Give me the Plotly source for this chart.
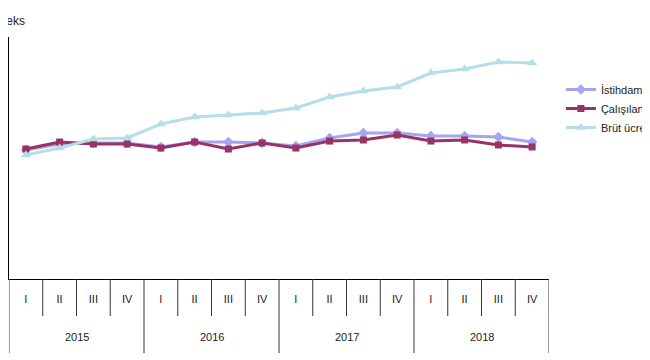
import plotly.graph_objects as go

years = ["2015"] * 4 + ["2016"] * 4 + ["2017"] * 4 + ["2018"] * 4
quarters = ["I", "II", "III", "IV"] * 4
year_labels = ["2015", "2016", "2017", "2018"]

istihdam = [96.0, 100.4, 101.2, 101.2, 98.2, 101.9, 101.9, 101.2,
            98.9, 104.9, 108.6, 108.6, 106.4, 106.4, 105.6, 101.9]
calisilan = [96.7, 101.9, 100.4, 100.4, 97.4, 101.9, 96.7, 101.2,
             97.4, 102.6, 103.4, 107.1, 102.6, 103.4, 99.7, 98.2]
brut = [92.2, 97.4, 104.1, 104.9, 115.3, 120.5, 122.0, 123.5,
        127.2, 135.4, 139.8, 142.8, 153.2, 156.2, 161.4, 160.7]

names = ["İstihdam", "Çalışılan saat", "Brüt ücret-maaş"]

FONT = "Liberation Sans, Arial, sans-serif"
cats = [f"{y} {q}" for y, q in zip(years, quarters)]

fig = go.Figure()
fig.add_trace(go.Scatter(x=cats, y=istihdam, name=names[0], mode="lines+markers",
                         line=dict(color="#a4a4f2", width=3),
                         marker=dict(symbol="diamond", size=8, color="#a4a4f2")))
fig.add_trace(go.Scatter(x=cats, y=calisilan, name=names[1], mode="lines+markers",
                         line=dict(color="#993366", width=3),
                         marker=dict(symbol="square", size=7, color="#993366")))
fig.add_trace(go.Scatter(x=cats, y=brut, name=names[2], mode="lines+markers",
                         line=dict(color="#b5dfe5", width=3),
                         marker=dict(symbol="triangle-up", size=9, color="#b5dfe5")))

# category boundaries below the axis: short for quarters, long for years
shapes = []
n = len(cats)
for i in range(n + 1):
    is_year = (i % 4 == 0)
    shapes.append(dict(type="line", xref="x", yref="paper",
                       x0=i - 0.5, x1=i - 0.5, y0=0, y1=-0.306 if is_year else -0.153,
                       line=dict(color="#333333", width=1)))

annotations = []
for k, yl in enumerate(year_labels):
    annotations.append(dict(text=yl, xref="x", yref="paper", x=4 * k + 1.5, y=-0.24,
                            xanchor="center", yanchor="middle", showarrow=False,
                            font=dict(family=FONT, size=11, color="#222222")))
annotations.append(dict(text="Endeks", xref="paper", yref="paper", x=-0.048, y=1.029,
                        xanchor="left", yanchor="bottom", showarrow=False,
                        font=dict(family=FONT, size=12, color="#222222")))

fig.update_layout(
    width=642, height=352,
    margin=dict(l=1, r=101, t=29, b=81, autoexpand=False),
    paper_bgcolor="white", plot_bgcolor="white",
    font=dict(family=FONT, size=11, color="#222222"),
    showlegend=True,
    legend=dict(x=1.022, y=0.843, xanchor="left", yanchor="top",
                font=dict(family=FONT, size=11, color="#222222"),
                tracegroupgap=0, itemwidth=30, bgcolor="rgba(0,0,0,0)"),
    xaxis=dict(type="category", range=[-0.5, n - 0.5], showline=True, linecolor="#000000",
               linewidth=1, ticks="", tickvals=cats, ticktext=quarters, ticklabelstandoff=10,
               tickfont=dict(family=FONT, size=11, color="#222222"),
               showgrid=False, zeroline=False, automargin=False),
    yaxis=dict(range=[0, 180], dtick=20, showline=True, linecolor="#000000", linewidth=1,
               ticks="outside", ticklen=4, tickcolor="#000000", showticklabels=False,
               showgrid=False, zeroline=False, automargin=False),
    shapes=shapes,
    annotations=annotations,
)

fig.write_html("out.html")
